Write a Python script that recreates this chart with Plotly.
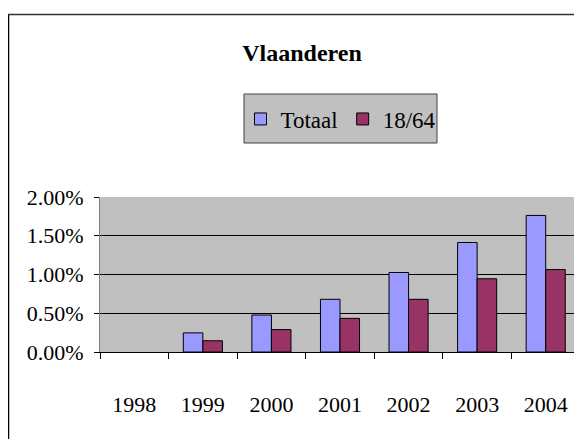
import plotly.graph_objects as go

years = ["1998", "1999", "2000", "2001", "2002", "2003", "2004"]
totaal = [None, 0.00247, 0.00477, 0.0068, 0.01026, 0.01413, 0.01762]
r1864 = [None, 0.00145, 0.00289, 0.00434, 0.0068, 0.00945, 0.01064]
y_ticks = [0, 0.005, 0.01, 0.015, 0.02]

# page body has an 8px margin; figure coordinates are page coordinates minus 8
OFF = 8
W, H = 582 - OFF, 439 - OFF
L, T = 100 - OFF, 197 - OFF
R = W - (580 - OFF)
B = H - (352 - OFF)
pw = W - L - R
ph = H - T - B

font = "Liberation Serif"


def px_x(p):
    return (p - OFF - L) / pw


def px_y(p):
    return (H + OFF - B - p) / ph


fig = go.Figure()
fig.add_trace(go.Bar(name="Totaal", x=years, y=totaal,
                     marker=dict(color="#9999FF", line=dict(color="black", width=1))))
fig.add_trace(go.Bar(name="18/64", x=years, y=r1864,
                     marker=dict(color="#993366", line=dict(color="black", width=1))))

fig.update_layout(
    width=W, height=H,
    margin=dict(l=L, r=R, t=T, b=B, pad=0),
    paper_bgcolor="white",
    plot_bgcolor="#C0C0C0",
    font=dict(family=font, size=22, color="black"),
    barmode="group",
    bargap=0.43,
    bargroupgap=0,
    title=dict(text="Vlaanderen", x=(302 - OFF) / W, xanchor="center",
               y=1 - (53 - OFF) / H, yanchor="middle", yref="container",
               font=dict(family=font, size=24, color="black", weight="bold")),
    showlegend=True,
    legend=dict(orientation="h", x=px_x(341), y=px_y(119), xanchor="center", yanchor="middle",
                bgcolor="rgba(0,0,0,0)", borderwidth=0,
                font=dict(family=font, size=23, color="black"),
                itemwidth=30, tracegroupgap=0),
    xaxis=dict(type="category", showline=True, linecolor="black", linewidth=1,
               ticks="outside", tickson="boundaries", ticklen=6, tickcolor="black",
               ticklabelstandoff=33, showgrid=False, mirror=False),
    yaxis=dict(range=[0, 0.02], tickvals=y_ticks, tickformat=".2%",
               showgrid=True, gridcolor="black", gridwidth=1,
               ticks="outside", ticklen=5, tickcolor="black",
               showline=True, linecolor="#808080", zeroline=False,
               ticklabelstandoff=6),
    shapes=[
        dict(type="rect", xref="paper", yref="paper", layer="below",
             x0=px_x(244), x1=px_x(437), y0=px_y(94), y1=px_y(143),
             fillcolor="#C0C0C0", line=dict(color="#404040", width=1)),
        dict(type="line", xref="paper", yref="paper",
             x0=px_x(8.5), x1=px_x(8.5), y0=px_y(14), y1=px_y(450),
             line=dict(color="black", width=1.5)),
        dict(type="line", xref="paper", yref="paper",
             x0=px_x(8), x1=px_x(600), y0=px_y(14.5), y1=px_y(14.5),
             line=dict(color="#333333", width=1.5)),
    ],
)

fig.write_html("out.html")
